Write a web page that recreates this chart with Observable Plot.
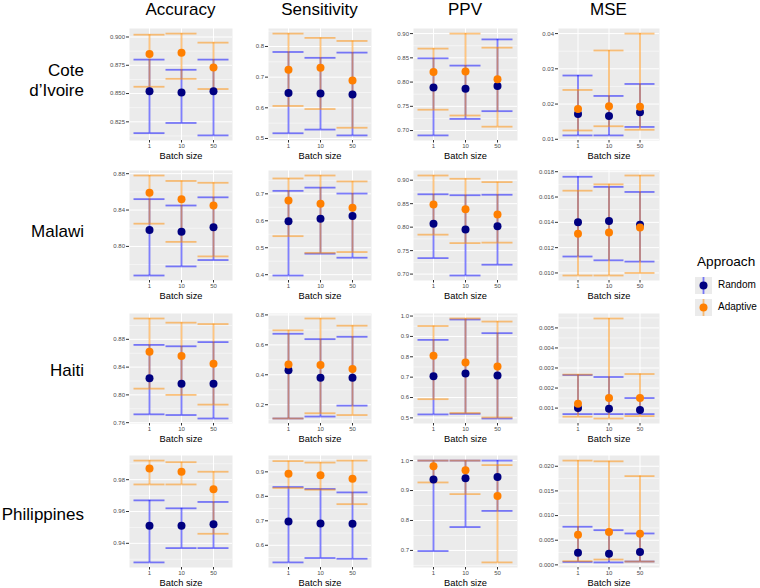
<!DOCTYPE html>
<html><head><meta charset="utf-8">
<script src="https://cdn.jsdelivr.net/npm/d3@7"></script>
<script src="https://cdn.jsdelivr.net/npm/@observablehq/plot@0.6"></script>
<style>
body{margin:0;background:#fff;font-family:"Liberation Sans",Arial,sans-serif;}
#chart{position:relative;width:760px;height:588px;overflow:hidden;background:#fff;}
.abs{position:absolute;white-space:nowrap;color:#000;}
.coltitle{font-size:17px;line-height:17px;text-align:center;width:160px;}
.rowlab{font-size:17px;text-align:right;left:0;width:84px;}
.legtext{font-size:10px;line-height:10px;color:#000;}
svg{overflow:visible;}
</style></head>
<body><div id="chart"></div>
<script>
// ---------- categories ----------
const countries = ["Cote\nd\u2019Ivoire", "Malawi", "Haiti", "Philippines"];
const metrics = ["Accuracy", "Sensitivity", "PPV", "MSE"];
const batchSizes = ["1", "10", "50"];
const approaches = ["Random", "Adaptive"];

// ---------- values: [country][batch size] ----------
const accuracyRandomMean   = [[0.852,0.851,0.852],[0.818,0.816,0.821],[0.824,0.816,0.816],[0.951,0.951,0.952]];
const accuracyRandomLow    = [[0.815,0.824,0.813],[0.768,0.778,0.785],[0.772,0.771,0.766],[0.928,0.937,0.937]];
const accuracyRandomHigh   = [[0.880,0.871,0.880],[0.852,0.845,0.854],[0.872,0.870,0.876],[0.967,0.962,0.966]];
const accuracyAdaptiveMean = [[0.885,0.886,0.873],[0.859,0.852,0.845],[0.862,0.856,0.845],[0.987,0.985,0.974]];
const accuracyAdaptiveLow  = [[0.856,0.863,0.854],[0.825,0.805,0.789],[0.809,0.800,0.786],[0.977,0.977,0.946]];
const accuracyAdaptiveHigh = [[0.902,0.903,0.895],[0.878,0.872,0.870],[0.910,0.904,0.902],[0.992,0.991,0.985]];

const sensitivityRandomMean   = [[0.648,0.647,0.643],[0.598,0.608,0.618],[0.430,0.380,0.381],[0.697,0.689,0.688]];
const sensitivityRandomLow    = [[0.517,0.529,0.510],[0.397,0.478,0.463],[0.108,0.121,0.194],[0.530,0.548,0.545]];
const sensitivityRandomHigh   = [[0.782,0.763,0.780],[0.711,0.723,0.701],[0.674,0.638,0.654],[0.838,0.830,0.816]];
const sensitivityAdaptiveMean = [[0.724,0.731,0.689],[0.675,0.663,0.648],[0.468,0.465,0.439],[0.892,0.886,0.872]];
const sensitivityAdaptiveLow  = [[0.606,0.596,0.535],[0.543,0.481,0.484],[0.108,0.143,0.131],[0.834,0.827,0.768]];
const sensitivityAdaptiveHigh = [[0.842,0.828,0.818],[0.757,0.768,0.746],[0.697,0.776,0.728],[0.944,0.938,0.946]];

const ppvRandomMean   = [[0.789,0.786,0.792],[0.807,0.795,0.802],[0.705,0.718,0.708],[0.937,0.941,0.945]];
const ppvRandomLow    = [[0.690,0.724,0.740],[0.734,0.697,0.720],[0.517,0.520,0.497],[0.698,0.778,0.832]];
const ppvRandomHigh   = [[0.849,0.834,0.888],[0.870,0.868,0.869],[0.883,0.983,0.916],[1.000,1.000,1.000]];
const ppvAdaptiveMean = [[0.821,0.822,0.806],[0.848,0.838,0.827],[0.805,0.772,0.752],[0.981,0.968,0.882]];
const ppvAdaptiveLow  = [[0.743,0.731,0.708],[0.784,0.766,0.767],[0.592,0.524,0.502],[0.927,0.888,0.660]];
const ppvAdaptiveHigh = [[0.869,0.900,0.871],[0.910,0.903,0.896],[0.951,0.988,0.973],[1.000,1.000,0.985]];

const mseRandomMean   = [[0.0172,0.0166,0.0177],[0.0140,0.0141,0.0138],[0.00100,0.00097,0.00090],[0.00245,0.00224,0.00260]];
const mseRandomLow    = [[0.0111,0.0111,0.0135],[0.0113,0.0110,0.0109],[0.00070,0.00070,0.00070],[0.00060,0.00050,0.00068]];
const mseRandomHigh   = [[0.0281,0.0223,0.0257],[0.0176,0.0168,0.0164],[0.00265,0.00255,0.00150],[0.00773,0.00704,0.00637]];
const mseAdaptiveMean = [[0.0186,0.0194,0.0192],[0.0131,0.0132,0.0136],[0.00122,0.00150,0.00150],[0.00610,0.00666,0.00630]];
const mseAdaptiveLow  = [[0.0125,0.0137,0.0127],[0.0098,0.0098,0.0100],[0.00057,0.00048,0.00060],[0.00075,0.00108,0.00067]];
const mseAdaptiveHigh = [[0.0240,0.0352,0.0400],[0.0165,0.0170,0.0177],[0.00267,0.00547,0.00270],[0.02115,0.02100,0.01800]];

// ---------- tick labels: [country] ----------
const accuracyTicks = [["0.825","0.850","0.875","0.900"],["0.80","0.84","0.88"],["0.76","0.80","0.84","0.88"],["0.94","0.96","0.98"]];
const sensitivityTicks = [["0.5","0.6","0.7","0.8"],["0.4","0.5","0.6","0.7"],["0.2","0.4","0.6","0.8"],["0.6","0.7","0.8","0.9"]];
const ppvTicks = [["0.70","0.75","0.80","0.85","0.90"],["0.70","0.75","0.80","0.85","0.90"],["0.5","0.6","0.7","0.8","0.9","1.0"],["0.7","0.8","0.9","1.0"]];
const mseTicks = [["0.01","0.02","0.03","0.04"],["0.010","0.012","0.014","0.016","0.018"],["0.001","0.002","0.003","0.004","0.005"],["0.000","0.005","0.010","0.015","0.020"]];

// ---------- tables built from the arrays ----------
const valueTable = {
  Accuracy:    {Random: [accuracyRandomMean, accuracyRandomLow, accuracyRandomHigh], Adaptive: [accuracyAdaptiveMean, accuracyAdaptiveLow, accuracyAdaptiveHigh]},
  Sensitivity: {Random: [sensitivityRandomMean, sensitivityRandomLow, sensitivityRandomHigh], Adaptive: [sensitivityAdaptiveMean, sensitivityAdaptiveLow, sensitivityAdaptiveHigh]},
  PPV:         {Random: [ppvRandomMean, ppvRandomLow, ppvRandomHigh], Adaptive: [ppvAdaptiveMean, ppvAdaptiveLow, ppvAdaptiveHigh]},
  MSE:         {Random: [mseRandomMean, mseRandomLow, mseRandomHigh], Adaptive: [mseAdaptiveMean, mseAdaptiveLow, mseAdaptiveHigh]}
};
const tickTable = {Accuracy: accuracyTicks, Sensitivity: sensitivityTicks, PPV: ppvTicks, MSE: mseTicks};

// ---------- layout & style ----------
const colX = [129, 268, 413, 558];
const colW = [103, 103, 104, 101];
const rowY = [28, 170, 313, 455];
const rowH = [112, 110, 110, 112];
const ML = 30, MR = 4, MT = 4, MB = 24;
const barColor = {Random: "#0000FF", Adaptive: "#FF8C00"};
const dotColor = {Random: "#000080", Adaptive: "#FF7F00"};
const FONT = '"Liberation Sans", Arial, sans-serif';

const chart = document.getElementById("chart");

function makePanel(ci, mi) {
  const metric = metrics[mi];
  const series = approaches.map(a => {
    const [M, L, H] = valueTable[metric][a];
    return batchSizes.map((b, bi) => ({approach: a, batch: b, mean: M[ci][bi], low: L[ci][bi], high: H[ci][bi]}));
  });
  const all = series.flat();
  const lo = d3.min(all, d => d.low), hi = d3.max(all, d => d.high);
  const pad = (hi - lo) * 0.05;
  const domain = [lo - pad, hi + pad];
  const labels = tickTable[metric][ci];
  const major = labels.map(Number);
  const labelOf = new Map(major.map((v, i) => [v, labels[i]]));
  const step = major[1] - major[0];
  const minor = [major[0] - step / 2, ...major.map(v => v + step / 2)].filter(v => v >= domain[0] && v <= domain[1]);

  const W = ML + colW[mi] + MR, H = MT + rowH[ci] + MB;
  const marks = [
    Plot.frame({fill: "#EBEBEB", stroke: "none"}),
    Plot.ruleY(minor, {stroke: "white", strokeWidth: 0.5}),
    Plot.ruleY(major, {stroke: "white", strokeWidth: 1}),
    Plot.ruleX(batchSizes, {stroke: "white", strokeWidth: 1})
  ];
  series.forEach((data, ai) => {
    const c = barColor[approaches[ai]];
    const st = {stroke: c, strokeOpacity: 0.5, strokeWidth: 1.8};
    marks.push(
      Plot.ruleX(data, {x: "batch", y1: "low", y2: "high", ...st}),
      Plot.tickY(data, {x: "batch", y: "low", insetLeft: 0.5, insetRight: 0.5, ...st}),
      Plot.tickY(data, {x: "batch", y: "high", insetLeft: 0.5, insetRight: 0.5, ...st})
    );
  });
  series.forEach((data, ai) => {
    marks.push(Plot.dot(data, {x: "batch", y: "mean", r: 4, fill: dotColor[approaches[ai]], stroke: "none"}));
  });
  marks.push(
    Plot.axisY({ticks: major, tickFormat: d => labelOf.get(d), tickSize: 3, tickPadding: 1.5, fontSize: 6, label: null, stroke: "#333333", fill: "#4D4D4D"}),
    Plot.axisX({tickSize: 2.5, tickPadding: 0.5, fontSize: 6, label: null, stroke: "#333333", fill: "#4D4D4D"}),
    Plot.text(["Batch size"], {text: d => d, frameAnchor: "bottom", dy: 16, lineAnchor: "middle", fontSize: 9.3, fill: "#000"})
  );
  const svg = Plot.plot({
    width: W, height: H,
    marginLeft: ML, marginRight: MR, marginTop: MT, marginBottom: MB,
    style: {fontFamily: FONT, background: "transparent", color: "#4D4D4D", overflow: "visible"},
    x: {type: "band", domain: batchSizes, paddingInner: 0, paddingOuter: 0.1},
    y: {domain},
    marks
  });
  svg.style.position = "absolute";
  svg.style.left = (colX[mi] - ML) + "px";
  svg.style.top = (rowY[ci] - MT) + "px";
  chart.appendChild(svg);
}

for (let ci = 0; ci < countries.length; ci++)
  for (let mi = 0; mi < metrics.length; mi++) makePanel(ci, mi);

// column titles
metrics.forEach((m, mi) => {
  const d = document.createElement("div");
  d.className = "abs coltitle";
  d.textContent = m;
  d.style.left = (colX[mi] + colW[mi] / 2 - 80) + "px";
  d.style.top = "1px";
  chart.appendChild(d);
});

// row labels
const rowLabelTop = [61, 222.5, 361.5, 505.5];
countries.forEach((c, ci) => {
  const d = document.createElement("div");
  d.className = "abs rowlab";
  const lines = c.split("\n");
  d.style.lineHeight = lines.length > 1 ? "19.5px" : "17px";
  d.innerHTML = lines.map(s => s.replace(/&/g, "&amp;")).join("<br>");
  d.style.top = rowLabelTop[ci] + "px";
  chart.appendChild(d);
});

// legend
const lt = document.createElement("div");
lt.className = "abs";
lt.style.cssText += "left:697px;top:255px;font-size:13.6px;line-height:14px;";
lt.textContent = "Approach";
chart.appendChild(lt);
approaches.forEach((a, ai) => {
  const cy = 285 + ai * 22;
  const key = document.createElementNS("http://www.w3.org/2000/svg", "svg");
  key.setAttribute("width", 17); key.setAttribute("height", 17);
  key.style.cssText = `position:absolute;left:695px;top:${cy - 8.5}px;`;
  key.innerHTML = `<rect width="17" height="17" fill="#EBEBEB"/>` +
    `<line x1="8.5" x2="8.5" y1="0" y2="17" stroke="${barColor[a]}" stroke-opacity="0.5" stroke-width="1.8"/>` +
    `<circle cx="8.5" cy="8.5" r="4" fill="${dotColor[a]}"/>`;
  chart.appendChild(key);
  const t = document.createElement("div");
  t.className = "abs legtext";
  t.style.left = "718px";
  t.style.top = (cy - 5) + "px";
  t.textContent = a;
  chart.appendChild(t);
});
</script>
</body></html>
